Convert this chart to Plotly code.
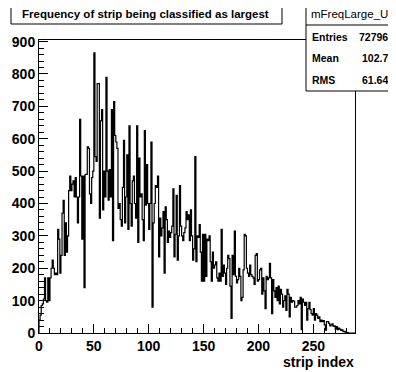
import plotly.graph_objects as go

# ---- data ----
counts = [
    40, 55, 85, 90, 105, 170, 100, 95, 170, 100,
    170, 200, 225, 200, 180, 185, 180, 320, 290, 185,
    240, 370, 410, 240, 340, 250, 300, 440, 485, 440,
    460, 470, 420, 480, 420, 340, 420, 660, 485, 290,
    485, 140, 490, 490, 575, 570, 430, 400, 480, 500,
    865, 545, 530, 770, 770, 355, 655, 690, 380, 500,
    420, 790, 500, 410, 505, 420, 690, 285, 715, 610,
    590, 570, 385, 400, 350, 330, 450, 595, 340, 420,
    550, 320, 640, 400, 330, 470, 485, 400, 355, 640,
    280, 540, 420, 430, 350, 285, 625, 395, 520, 400,
    320, 400, 590, 80, 340, 400, 455, 450, 485, 235,
    355, 300, 325, 375, 185, 390, 350, 280, 315, 295,
    310, 330, 445, 235, 305, 425, 225, 300, 455, 330,
    300, 285, 310, 325, 375, 350, 365, 285, 380, 300,
    225, 260, 545, 220, 300, 295, 335, 250, 160, 305,
    160, 305, 175, 290, 285, 300, 220, 160, 250, 200,
    210, 220, 170, 160, 185, 160, 320, 175, 210, 185,
    150, 200, 240, 230, 145, 45, 240, 180, 315, 175,
    155, 165, 200, 175, 100, 110, 195, 305, 300, 200,
    185, 175, 210, 180, 175, 170, 150, 240, 245, 160,
    165, 195, 200, 120, 170, 130, 75, 175, 165, 170,
    215, 170, 60, 165, 130, 110, 140, 100, 145, 90,
    135, 120, 80, 100, 115, 70, 135, 120, 50, 110,
    95, 100, 98, 80, 80, 85, 100, 90, 110, 10,
    105, 95, 85, 95, 40, 75, 95, 72, 60, 55,
    75, 40, 60, 55, 45, 50, 35, 40, 35, 38,
    25, 9, 35, 35, 30, 22, 25, 28, 20, 22,
    12, 20, 10, 15, 12, 8, 10, 4, 5, 3,
    2, 1, 0, 0, 0, 0, 0, 0,
]
x_min, x_max = 0, 288
y_max = 905
x_ticks = [0, 50, 100, 150, 200, 250]
y_ticks = [0, 100, 200, 300, 400, 500, 600, 700, 800, 900]

title_text = "Frequency of strip being classified as largest"
hist_name = "mFreqLarge_U"
stat_labels = ["Entries", "Mean", "RMS"]
stat_values = ["72796", "102.7", "61.64"]
x_title = "strip index"

# ---- geometry (screen pixels; page body has an 8px margin) ----
OFF = 8
WIN_W, WIN_H = 396, 372
W, H = WIN_W - OFF, WIN_H - OFF
L, R, T, B = 39, 355, 40, 333


def px(x):
    return (x - L) / (R - L)


def py(y):
    return (B - y) / (B - T)


nb = len(counts)
edges = [x_min + i * (x_max - x_min) / nb for i in range(nb + 1)]
xs = [edges[0]] + edges
ys = [0] + counts + [counts[-1]]

FONT = "Liberation Sans, Arial, Helvetica, sans-serif"

fig = go.Figure()
fig.add_trace(go.Scatter(
    x=xs, y=ys, mode="lines", line=dict(color="black", width=1.2, shape="hv"),
    hoverinfo="skip", showlegend=False,
))

axis_common = dict(
    showgrid=False, zeroline=False, showline=True, mirror=True,
    automargin=False,
    linecolor="black", linewidth=1, ticks="inside", ticklen=9,
    tickcolor="black", tickwidth=1,
    tickfont=dict(family=FONT, size=14, color="black", weight="bold"),
)
fig.update_xaxes(range=[x_min, x_max], tickvals=x_ticks,
                 minor=dict(ticks="inside", ticklen=5, dtick=10, tick0=0,
                            tickcolor="black"),
                 **axis_common)
fig.update_yaxes(range=[0, y_max], tickvals=y_ticks,
                 minor=dict(ticks="inside", ticklen=5, dtick=20, tick0=0,
                            tickcolor="black"),
                 **axis_common)

shapes = [
    # title box
    dict(type="rect", xref="paper", yref="paper", x0=px(11), x1=px(282),
         y0=py(24), y1=py(4), line=dict(color="black", width=1),
         fillcolor="white", layer="above"),
    # stats box
    dict(type="rect", xref="paper", yref="paper", x0=px(306), x1=px(392),
         y0=py(91), y1=py(3), line=dict(color="black", width=1),
         fillcolor="white", layer="above"),
    dict(type="line", xref="paper", yref="paper", x0=px(306), x1=px(392),
         y0=py(25), y1=py(25), line=dict(color="black", width=1),
         layer="above"),
]

ann = [
    dict(text=title_text, x=px(145), y=py(14), xanchor="center",
         yanchor="middle",
         font=dict(family=FONT, size=11.5, color="black", weight="bold")),
    dict(text=hist_name, x=px(349), y=py(14), xanchor="center",
         yanchor="middle",
         font=dict(family=FONT, size=11.5, color="black")),
    dict(text=x_title, x=px(355), y=py(362), xanchor="right",
         yanchor="middle",
         font=dict(family=FONT, size=14, color="black", weight="bold")),
]
row_y = [37, 58, 80]
for lab, val, yy in zip(stat_labels, stat_values, row_y):
    ann.append(dict(text=lab, x=px(311), y=py(yy), xanchor="left",
                    yanchor="middle",
                    font=dict(family=FONT, size=10.5, color="black",
                              weight="bold")))
    ann.append(dict(text=val, x=px(389), y=py(yy), xanchor="right",
                    yanchor="middle",
                    font=dict(family=FONT, size=10.5, color="black",
                              weight="bold")))
for a in ann:
    a.update(xref="paper", yref="paper", showarrow=False, borderpad=0)

fig.update_layout(
    width=W, height=H, autosize=False,
    margin=dict(l=L - OFF, r=WIN_W - R, t=T - OFF, b=WIN_H - B, pad=0),
    paper_bgcolor="white", plot_bgcolor="white",
    shapes=shapes, annotations=ann, showlegend=False,
)

fig.write_html("out.html")
